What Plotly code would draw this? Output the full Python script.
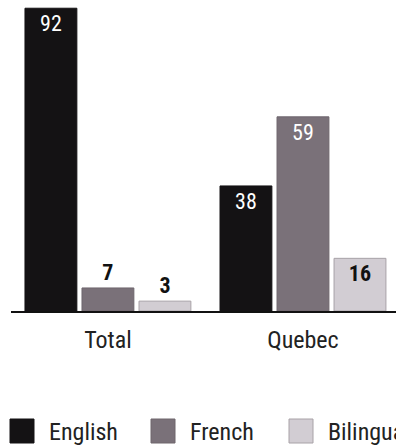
import plotly.graph_objects as go

# Data
categories = ["Total", "Quebec"]
series_names = ["English", "French", "Bilingual"]
english = [92, 38]
french = [7, 59]
bilingual = [3, 16]

series_values = [english, french, bilingual]
fills = ["#141214", "#7a7179", "#d2cdd3"]
edges = ["#141214", "#6e666d", "#a8a2a7"]
# label placement per bar: inside (top of bar) or just above it
positions = [["inside", "inside"], ["outside", "inside"], ["outside", "inside"]]
label_colors = [["white", "white"], ["#111111", "white"], ["#111111", "#111111"]]
label_weights = [["normal", "normal"], ["bold", "normal"], ["bold", "bold"]]

FONT = ("Noto Sans Condensed, Roboto Condensed, Liberation Sans Narrow, "
        "DejaVu Sans Condensed, sans-serif")

W, H = 396, 447
ML, MR, MT, MB = 11, 0, 0, 136
plot_w = W - ML - MR
plot_h = H - MT - MB

fig = go.Figure()
for name, vals, fill, edge, pos, lc, lw in zip(
    series_names, series_values, fills, edges, positions, label_colors, label_weights
):
    fig.add_trace(
        go.Bar(
            name=name,
            x=categories,
            y=vals,
            text=[str(v) for v in vals],
            textposition=pos,
            insidetextanchor="end",
            textangle=0,
            constraintext="none",
            textfont=dict(family=FONT, size=22, color=lc, weight=lw),
            marker=dict(color=fill, line=dict(color=edge, width=1)),
            showlegend=False,
            cliponaxis=False,
        )
    )

# Legend drawn as large swatches with labels below the plot
def px_to_paper_x(px):
    return (px - ML) / plot_w

def px_to_paper_y(py):
    return (H - MB - py) / plot_h

swatch_x = [10, 151, 289]
sw_top, sw_bot = 419, 443
shapes = []
annotations = []
for name, fill, edge, sx in zip(series_names, fills, edges, swatch_x):
    shapes.append(
        dict(
            type="rect", xref="paper", yref="paper",
            x0=px_to_paper_x(sx), x1=px_to_paper_x(sx + 24),
            y0=px_to_paper_y(sw_bot), y1=px_to_paper_y(sw_top),
            fillcolor=fill, line=dict(color=edge, width=1),
        )
    )
    annotations.append(
        dict(
            xref="paper", yref="paper",
            x=px_to_paper_x(sx + 37), y=px_to_paper_y((sw_top + sw_bot) / 2 + 1),
            xanchor="left", yanchor="middle",
            text=name, showarrow=False,
            font=dict(family=FONT, size=24, color="#222222"),
        )
    )

fig.update_layout(
    width=W, height=H,
    margin=dict(l=ML, r=MR, t=MT, b=MB, pad=0),
    paper_bgcolor="white", plot_bgcolor="white",
    barmode="group", bargap=0.123, bargroupgap=0.09,
    shapes=shapes, annotations=annotations,
    uniformtext=dict(mode=False),
)
fig.update_xaxes(
    range=[-0.497, 1.477],
    showline=True, linecolor="#111111", linewidth=1.5,
    showgrid=False, ticks="", ticklabelstandoff=6,
    tickfont=dict(family=FONT, size=24, color="#222222"),
)
fig.update_yaxes(
    range=[0, 94.5], visible=False, showgrid=False, zeroline=False,
)

fig.write_html("out.html")
